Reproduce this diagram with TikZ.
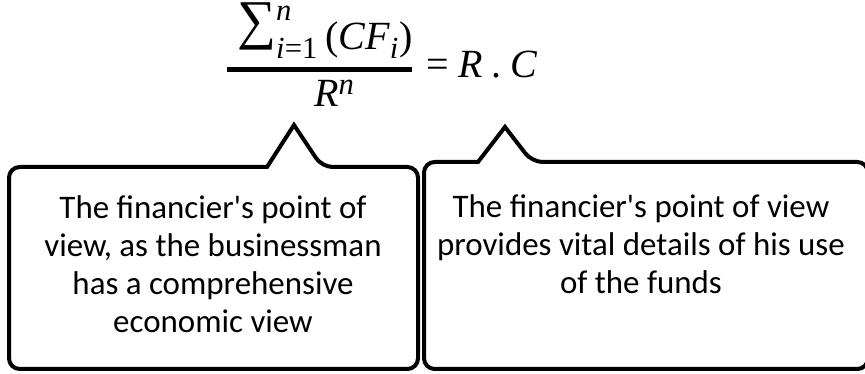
\documentclass[tikz,border=0pt]{standalone}
\usepackage[no-math]{fontspec}
\setmainfont{Carlito}
\newfontfamily\tms{Liberation Serif}[NFSSFamily=tms]
\DeclareSymbolFont{tmsit}{TU}{tms}{m}{it}
\DeclareSymbolFont{tmsup}{TU}{tms}{m}{n}
\DeclareMathSymbol{C}{\mathalpha}{tmsit}{`C}
\DeclareMathSymbol{F}{\mathalpha}{tmsit}{`F}
\DeclareMathSymbol{R}{\mathalpha}{tmsit}{`R}
\DeclareMathSymbol{i}{\mathalpha}{tmsit}{`i}
\DeclareMathSymbol{n}{\mathalpha}{tmsit}{`n}
\DeclareMathSymbol{1}{\mathalpha}{tmsup}{`1}
\DeclareMathSymbol{=}{\mathrel}{tmsup}{"3D}
\DeclareMathSymbol{(}{\mathopen}{tmsup}{"28}
\DeclareMathSymbol{)}{\mathclose}{tmsup}{"29}
\DeclareMathSymbol{.}{\mathord}{tmsup}{"2E}
\DeclareMathSizes{30}{30}{23}{16}
\newcommand\bigsig{\mathop{\raisebox{8.5pt}[31.4pt][0pt]{\tms\fontsize{41}{41}\selectfont ∑}}\nolimits}
\usetikzlibrary{positioning}
\tikzset{
  bubble/.style={draw, line width=3pt, line join=miter},
  txt/.style={font=\fontsize{24.7}{28.5}\selectfont, align=center, inner sep=0pt},
  eq/.style={font=\fontsize{30}{34}\selectfont, inner sep=0pt},
  fracbar/.style={draw, line width=3.5pt}
}

\begin{document}
\begin{tikzpicture}[x=0.75pt,y=-0.75pt]
\useasboundingbox (0,0) rectangle (865,374);
% formula
\node[eq, anchor=base west] (num) at (237,50) {$\bigsig_{i=1}^{n}\:(CF_i)$};
\node[eq, anchor=base west] (den) at (314,107) {$R^n$};
\node[eq, anchor=base west] (rhs) at (426,78) {$=R\;.\;C$};
\draw[fracbar] (227,69.5) -- (412,69.5);
% pointer tips
\coordinate (ltip) at (294,125);
\coordinate (rtip) at (505,127);
% left bubble
\draw[bubble] (267,167) [rounded corners=8pt] -- (9,167) -- (9,369) -- (418,369) -- (418,167)
  -- (322,167) [sharp corners] -- (ltip) -- cycle;
% right bubble
\draw[bubble] (478,162) [rounded corners=8pt] -- (424,162) -- (424,369) -- (868,369) -- (868,162)
  -- (532,162) [sharp corners] -- (rtip) -- cycle;
% texts
\node[txt, anchor=north] (ltext) at (213,195) {The financier\textquotesingle s point of\\ view, as the businessman\\ has a comprehensive\\ economic view};
\node[txt, anchor=north] (rtext) at (641,194) {The financier\textquotesingle s point of view\\ provides vital details of his use\\ of the funds};
\end{tikzpicture}
\end{document}
